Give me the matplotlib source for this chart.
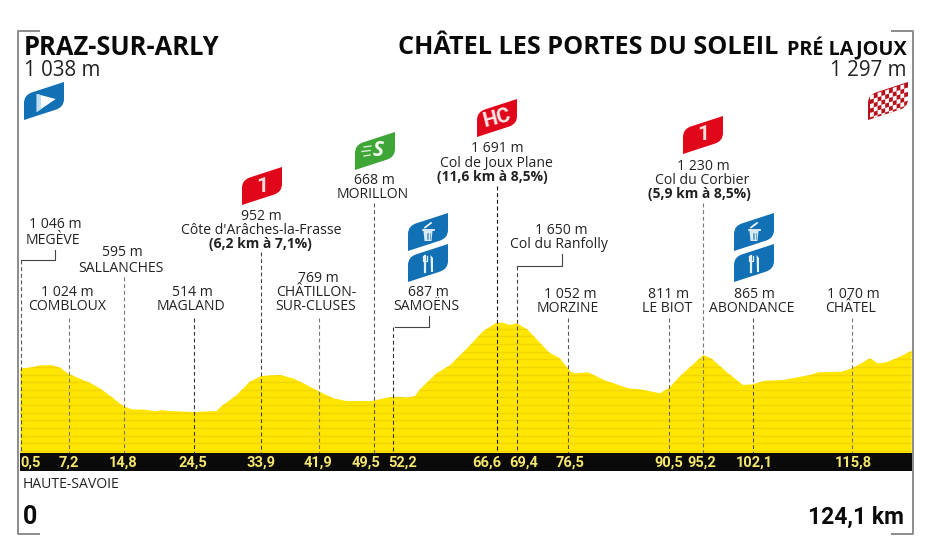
import matplotlib; matplotlib.use('Agg')
import matplotlib.pyplot as plt
from matplotlib.patches import PathPatch, Polygon, Rectangle
from matplotlib.path import Path

# profile
KM = [0.5, 1.8, 3.2, 4.8, 6.0, 7.2, 8.75, 10.1, 11.5, 13.1, 14.7, 15.9, 17.8, 19.2, 20.1, 21.2,
      24.5, 27.7, 28.4, 30.5, 32.3, 33.9, 36.5, 38.3, 40.2, 41.7, 43.9, 45.7, 49.2, 51.1, 52.4,
      54.1, 55.2, 55.9, 58.2, 60.1, 62.4, 64.7, 66.5, 67.4, 68.4, 69.3, 70.8, 73.8, 75.3, 76.8,
      77.4, 79.2, 81.7, 84.8, 86.4, 89.2, 90.5, 91.9, 95.2, 96.3, 98.4, 100.7, 102.1, 103.7,
      106.2, 110.0, 111.1, 114.4, 116.0, 118.3, 119.4, 120.4, 122.0, 124.1]
ALT = [1081, 1089, 1120, 1124, 1089, 1007, 945, 893, 820, 710, 592, 545, 540, 519, 536, 523,
       510, 523, 588, 732, 906, 980, 993, 950, 863, 788, 689, 654, 654, 693, 710,
       697, 719, 807, 1016, 1124, 1340, 1570, 1677, 1677, 1647, 1670, 1590, 1290, 1212, 1037,
       1016, 1029, 919, 820, 807, 755, 828, 972, 1255, 1212, 1037, 863, 872, 919,
       928, 993, 1029, 1037, 1089, 1212, 1147, 1155, 1212, 1311]

TICK_KM = [0.5, 7.2, 14.8, 24.5, 33.9, 41.9, 49.5, 52.2, 66.6, 69.4, 76.5, 90.5, 95.2, 102.1, 115.8]
TICK_LABELS = ['0,5', '7,2', '14,8', '24,5', '33,9', '41,9', '49,5', '52,2', '66,6', '69,4',
               '76,5', '90,5', '95,2', '102,1', '115,8']

# layout, in reference pixels
W, H = 933, 545
TICK_LABEL_X = [31, 69, 122.7, 193, 261, 318, 366, 403, 487, 524, 570, 669, 702, 754, 853]
LEADER_TOP = [260, 318, 277, 318, 252, 318, 203, 327, 186, 266, 318, 318, 203, 318, 318]
LEADER_COL = ['#555555', '#777777', '#777777', '#333333', '#444444', '#777777', '#555555', '#333333',
              '#111111', '#444444', '#555555', '#666666', '#777777', '#555555', '#777777']
LABELS = [
    ('1 046 m', 55, 224, 'normal'), ('MEGÈVE', 53, 239, 'normal'),
    ('595 m', 122, 252, 'normal'), ('SALLANCHES', 121, 267, 'normal'),
    ('952 m', 261, 215, 'normal'), ("Côte d'Arâches-la-Frasse", 261, 229, 'normal'),
    ('(6,2 km à 7,1%)', 260, 243, 'bold'),
    ('1 024 m', 67, 292, 'normal'), ('COMBLOUX', 67, 306, 'normal'),
    ('514 m', 192, 292, 'normal'), ('MAGLAND', 191, 306, 'normal'),
    ('769 m', 318, 278, 'normal'), ('CHÂTILLON-', 316, 292, 'normal'), ('SUR-CLUSES', 316, 306, 'normal'),
    ('668 m', 374, 180, 'normal'), ('MORILLON', 373, 194, 'normal'),
    ('687 m', 428, 292, 'normal'), ('SAMOËNS', 426, 306, 'normal'),
    ('1 691 m', 497, 148, 'normal'), ('Col de Joux Plane', 496, 162, 'normal'),
    ('(11,6 km à 8,5%)', 492, 176, 'bold'),
    ('1 650 m', 561, 230, 'normal'), ('Col du Ranfolly', 559, 244, 'normal'),
    ('1 052 m', 570, 293, 'normal'), ('MORZINE', 568, 307, 'normal'),
    ('811 m', 669, 293, 'normal'), ('LE BIOT', 667, 307, 'normal'),
    ('1 230 m', 703, 165, 'normal'), ('Col du Corbier', 702, 179, 'normal'),
    ('(5,9 km à 8,5%)', 699, 193, 'bold'),
    ('865 m', 754, 293, 'normal'), ('ABONDANCE', 752, 307, 'normal'),
    ('1 070 m', 853, 293, 'normal'), ('CHÂTEL', 851, 307, 'normal'),
]
BLUE = '#1270B5'
RED = '#E0071A'
GREEN = '#3EA637'
NARROW = ['Roboto', 'Open Sans']

plt.rcParams['font.family'] = ['Open Sans', 'DejaVu Sans']

fig = plt.figure(figsize=(W / 100, H / 100), dpi=100)

# profile axes: 7.21 px per km, 0.0765 px per metre
ax = fig.add_axes([0, 0, 1, 1])
ax.set_xlim(-16.9 / 7.21, (W - 16.9) / 7.21)
ax.set_ylim(514 + (411.7 - H) / 0.0765, 514 + 411.7 / 0.0765)
ax.axis('off')

xs = [KM[0]] + KM + [KM[-1]]
ys = [-30] + ALT + [-30]
prof = ax.fill(xs, ys, color='#FFE600', lw=0, zorder=2)[0]
for a in range(0, 1800, 100):
    ln = ax.plot([0, 125], [a, a], color='#F3D300', lw=1.0, zorder=3)[0]
    ln.set_clip_path(prof)

# overlay in pixels, for frame, flags and text
px = fig.add_axes([0, 0, 1, 1], facecolor='none')
px.set_xlim(0, W)
px.set_ylim(H, 0)
px.axis('off')


def to_px(km):
    return 16.9 + 7.21 * km


for i, km in enumerate(TICK_KM):
    px.plot([to_px(km)] * 2, [LEADER_TOP[i], 453], color=LEADER_COL[i], lw=0.8, ls=(0, (3.5, 2.5)), zorder=5)

# elbows for the three offset labels
px.plot([20.7, 54.5, 54.5], [260, 260, 250], color='#444444', lw=0.8, zorder=5)
px.plot([394.5, 428.7, 428.7], [327, 327, 316], color='#444444', lw=0.8, zorder=5)
px.plot([516.5, 561.7, 561.7], [266, 266, 254], color='#444444', lw=0.8, zorder=5)

# black km strip
px.add_patch(Rectangle((20, 453), 892, 18, color='#0A0A0A', lw=0, zorder=6))
for t, x in zip(TICK_LABELS, TICK_LABEL_X):
    px.text(x, 462.5, t, color='#F5E66E', fontsize=10.5, fontweight='bold', family=NARROW,
            ha='center', va='center', zorder=7)

# frame
px.plot([39, 18, 18, 39], [31, 31, 534, 534], color='#8C8C8C', lw=1.4, zorder=4)
px.plot([892, 912.5, 912.5, 892], [31, 31, 534, 534], color='#8C8C8C', lw=1.4, zorder=4)

# headings
px.text(24, 47.5, 'PRAZ-SUR-ARLY', fontsize=18.4, fontweight='bold', color='#0A0A0A', ha='left', va='center')
px.text(24, 70, '1 038 m', fontsize=14.8, color='#222222', ha='left', va='center')
px.text(778, 47.5, 'CHÂTEL LES PORTES DU SOLEIL', fontsize=18.2, fontweight='bold', color='#0A0A0A',
        ha='right', va='center')
px.text(907, 48.5, 'PRÉ LAJOUX', fontsize=14.3, fontweight='bold', color='#0A0A0A', ha='right', va='center')
px.text(907, 70, '1 297 m', fontsize=14.8, color='#222222', ha='right', va='center')

for t, x, y, w in LABELS:
    px.text(x, y + 1, t, fontsize=10.1 if w == 'normal' else 10, fontweight=w, color='#222222',
            ha='center', va='center', zorder=8)

px.text(23, 484, 'HAUTE-SAVOIE', fontsize=10.1, color='#222222', ha='left', va='center')
px.text(23, 517, '0', fontsize=18, fontweight='bold', family=NARROW, color='#0A0A0A', ha='left', va='center')
px.text(904, 517, '124,1 km', fontsize=16.5, fontweight='bold', family=NARROW, color='#0A0A0A',
        ha='right', va='center')


def flag_path(x0, y0, w=40, h=38, skew=13, r=8):
    s = skew * r / w
    verts = [(x0, y0 + h), (x0, y0 + skew + r), (x0, y0 + skew), (x0 + r, y0 + skew - s),
             (x0 + w, y0), (x0 + w, y0 + h - skew - r), (x0 + w, y0 + h - skew),
             (x0 + w - r, y0 + h - skew + s), (x0, y0 + h)]
    codes = [Path.MOVETO, Path.LINETO, Path.CURVE3, Path.CURVE3, Path.LINETO, Path.LINETO,
             Path.CURVE3, Path.CURVE3, Path.CLOSEPOLY]
    return Path(verts, codes)


def flag(x0, y0, color):
    p = PathPatch(flag_path(x0, y0), facecolor=color, edgecolor='none', zorder=6)
    px.add_patch(p)
    return p


def bin_glyph(x0, y0):
    cx, cy = x0 + 20, y0 + 20
    px.add_patch(Polygon([(cx - 4.5, cy - 2), (cx + 4.5, cy - 2), (cx + 3.5, cy + 8), (cx - 3.5, cy + 8)],
                         facecolor='#D8ECF7', edgecolor='none', zorder=7))
    px.plot([cx - 5.5, cx + 5.5], [cy - 3.5, cy - 3.5], color='white', lw=1.2, zorder=7)
    px.plot([cx - 3, cx + 3], [cy - 5.5, cy - 10], color='white', lw=1.2, zorder=7)
    for dx in (-1.5, 0, 1.5):
        px.plot([cx + dx] * 2, [cy, cy + 6], color=BLUE, lw=0.4, zorder=8)


def fork_glyph(x0, y0):
    cx, cy = x0 + 20, y0 + 20
    px.plot([cx - 3.5, cx - 3.5], [cy - 8, cy + 8], color='#E4F1F9', lw=1.6, zorder=7)
    px.plot([cx - 5.5, cx - 5.5, cx - 1.5, cx - 1.5], [cy - 8, cy - 3, cy - 3, cy - 8], color='#E4F1F9', lw=0.9, zorder=7)
    px.add_patch(Polygon([(cx + 2.5, cy - 9), (cx + 5, cy - 6), (cx + 5, cy + 8), (cx + 3, cy + 8)],
                         facecolor='#E4F1F9', edgecolor='none', zorder=7))


# start flag
flag(24, 82, BLUE)
px.add_patch(Polygon([(36.7, 94), (55.7, 99), (36.7, 112)], facecolor='white', edgecolor='none', zorder=7))
px.add_patch(Polygon([(36.7, 94), (41, 95), (41, 109), (36.7, 112)], facecolor='#BFE0F2', edgecolor='none', zorder=8))

# finish flag with checks
fin = flag(868, 82, '#B5121B')
x0, y0 = 868, 82
for i in range(10):
    for j in range(6):
        if (i + j) % 2 == 0:
            xa = x0 + 2 + i * 3.8
            y_top = y0 + 13 - 13 * (xa - x0) / 40 + 1 + j * 4.4
            cell = Polygon([(xa, y_top), (xa + 3.8, y_top - 1.2), (xa + 3.8, y_top + 3.2), (xa, y_top + 4.4)],
                           facecolor='white', edgecolor='none', zorder=7)
            px.add_patch(cell)
            cell.set_clip_path(fin)

# climbs and sprint
for x, y, lab in [(242, 167, '1'), (683, 116, '1')]:
    flag(x, y, RED)
    px.text(x + 20, y + 19, lab, color='#F5DDDD', fontsize=15, fontweight='bold', family=NARROW,
            ha='center', va='center', zorder=7)
flag(477, 99, RED)
px.text(497, 118.5, 'HC', color='#F8E9E9', fontsize=15, fontweight='bold', family=NARROW,
        rotation=14, ha='center', va='center', zorder=7)
flag(355, 132, GREEN)
px.text(378, 151, 'S', color='#F0F7EC', fontsize=15, fontweight='bold', style='italic',
        ha='center', va='center', zorder=7)
for k, (a, b) in enumerate([(364, 371), (362, 370), (364, 370)]):
    px.plot([a, b], [147 + k * 4.5, 146 + k * 4.5], color='#DCEFD6', lw=1, zorder=7)

# feed zones
for x in (408, 734):
    flag(x, 213, BLUE)
    bin_glyph(x, 213)
    flag(x, 244, BLUE)
    fork_glyph(x, 244)

fig.savefig('out.png', dpi=100, facecolor='white')
